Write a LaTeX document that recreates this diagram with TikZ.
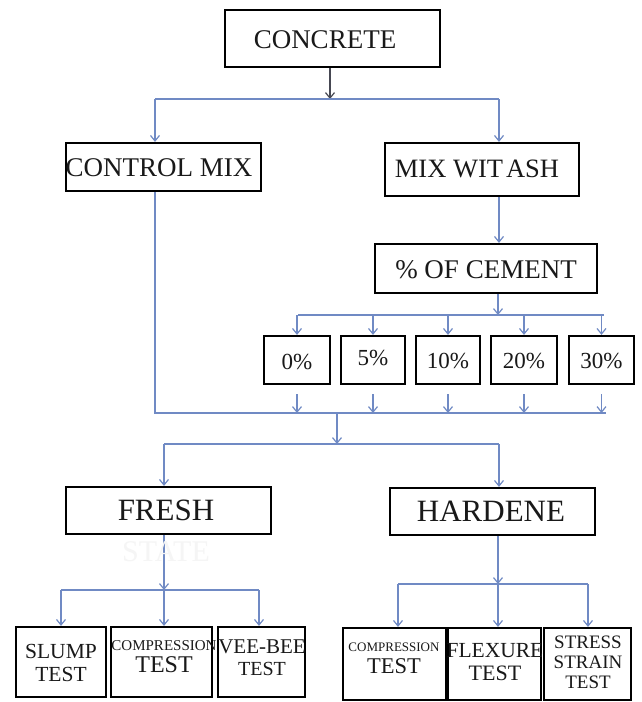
\documentclass[tikz,border=0pt]{standalone}
\usepackage{fontspec}
\setmainfont{Liberation Serif}
\usetikzlibrary{arrows.meta}
\definecolor{lnblue}{RGB}{112,138,196}
\definecolor{lndark}{RGB}{70,72,82}
\begin{document}
\begin{tikzpicture}[x=1pt,y=-1pt,
  box/.style={draw=black,line width=2.2pt,inner sep=0pt},
  txt/.style={inner sep=0pt,align=center,text=black!90},
  conn/.style={draw=lnblue,line width=1.2pt},
  arr/.style={conn,-{Straight Barb[length=5.5pt,width=9pt]}},
  darr/.style={draw=lndark,line width=1.2pt,-{Straight Barb[length=5.5pt,width=9pt]}},
  fA/.style={font=\fontsize{27}{30}\selectfont},
  fB/.style={font=\fontsize{23}{26}\selectfont},
  fC/.style={font=\fontsize{31}{34}\selectfont}]
\fill[white] (0,0) rectangle (641,702);
\useasboundingbox (0,0) rectangle (641,702);

% boxes
\node[box,minimum width=215pt,minimum height=57pt] (concrete) at (332.5,38.5) {};
\node[box,minimum width=195pt,minimum height=48pt] (control) at (163.5,167) {};
\node[box,minimum width=194pt,minimum height=53pt] (mixash) at (482,169.5) {};
\node[box,minimum width=222pt,minimum height=49pt] (cement) at (486,268.5) {};
\node[box,minimum width=66pt,minimum height=48pt] (p0) at (297,360) {};
\node[box,minimum width=64pt,minimum height=48pt] (p5) at (373,360) {};
\node[box,minimum width=64pt,minimum height=48pt] (p10) at (448,360) {};
\node[box,minimum width=66pt,minimum height=48pt] (p20) at (524,360) {};
\node[box,minimum width=65pt,minimum height=48pt] (p30) at (601.5,360) {};
\node[box,minimum width=205pt,minimum height=47pt] (fresh) at (168.5,510.5) {};
\node[box,minimum width=205pt,minimum height=47pt] (hard) at (492.5,511.5) {};
\node[box,minimum width=90pt,minimum height=70pt] (slump) at (61,662) {};
\node[box,minimum width=101pt,minimum height=70pt] (comp1) at (161.5,662) {};
\node[box,minimum width=87pt,minimum height=70pt] (vee) at (261.5,662) {};
\node[box,minimum width=103pt,minimum height=72pt] (comp2) at (394.5,664) {};
\node[box,minimum width=93pt,minimum height=72pt] (flex) at (494.5,664) {};
\node[box,minimum width=87pt,minimum height=72pt] (stress) at (587.5,664) {};

% texts
\node[txt,fA] (concretet) at (325,40) {CONCRETE};
\node[txt,fA] (controlt) at (159,168) {CONTROL MIX};
\node[txt,font=\fontsize{26.5}{30}\selectfont] (mixasht) at (477,169) {MIX WIT\hspace{3pt}ASH};
\node[txt,fA] (cementt) at (486,270) {\% OF CEMENT};
\node[txt,fB] (p0t) at (297,362) {0\%};
\node[txt,fB] (p5t) at (373,358) {5\%};
\node[txt,fB] (p10t) at (448,361) {10\%};
\node[txt,fB] (p20t) at (524,361) {20\%};
\node[txt,fB] (p30t) at (601.5,361) {30\%};
\node[txt,fC] (fresht) at (166,510) {FRESH};
\node[txt,fC] (hardt) at (491,511) {HARDENE};
\node[txt,font=\fontsize{21.5}{23}\selectfont] (slumpt) at (61,663) {SLUMP\\TEST};
\node[txt,font=\fontsize{24}{22}\selectfont] (comp1t) at (164,657) {{\fontsize{15}{22}\selectfont COMPRESSION}\\TEST};
\node[txt,font=\fontsize{20}{22}\selectfont] (veet) at (262,658) {{\fontsize{21}{22}\selectfont VEE-BEE}\\TEST};
\node[txt,font=\fontsize{22.5}{22}\selectfont] (comp2t) at (394,658) {{\fontsize{13}{22}\selectfont COMPRESSION}\\TEST};
\node[txt,font=\fontsize{22}{23}\selectfont] (flext) at (495,662) {{\fontsize{21.5}{23}\selectfont FLEXURE}\\TEST};
\node[txt,font=\fontsize{19}{20}\selectfont] (stresst) at (588,662) {STRESS\\STRAIN\\TEST};

% connectors
\coordinate (j1) at (330,99);
\coordinate (j1l) at (155,99);
\coordinate (j1r) at (499,99);
\draw[darr] (j1 |- concrete.south) -- (j1);
\draw[conn] (j1l) -- (j1r);
\draw[arr] (j1l) -- (j1l |- control.north);
\draw[arr] (j1r) -- (j1r |- mixash.north);

\coordinate (j2l) at (155,413);
\coordinate (j2r) at (606,413);
\coordinate (j2m) at (337,413);
\draw[conn] (j1l |- control.south) -- (j2l) -- (j2r);
\draw[arr] (j1r |- mixash.south) -- (j1r |- cement.north);

\coordinate (j3) at (498,315);
\coordinate (j3l) at (298,315);
\coordinate (j3r) at (604,315);
\draw[arr] (j3 |- cement.south) -- (j3);
\draw[conn] (j3l) -- (j3r);
\foreach \p in {p0,p5,p10,p20,p30}{
  \draw[arr] (\p.north |- j3) -- (\p.north);
  \draw[arr] ([yshift=-9pt]\p.south) -- (\p.south |- j2l);
}

\coordinate (j4) at (337,444);
\coordinate (j4l) at (164,444);
\coordinate (j4r) at (499,444);
\draw[arr] (j2m) -- (j4);
\draw[conn] (j4l) -- (j4r);
\draw[arr] (j4l) -- (j4l |- fresh.north);
\draw[arr] (j4r) -- (j4r |- hard.north);

\coordinate (j5) at (164,590);
\coordinate (j5l) at (61,590);
\coordinate (j5r) at (259,590);
\draw[arr] (j5 |- fresh.south) -- (j5);
\draw[conn] (j5l) -- (j5r);
\draw[arr] (j5l) -- (j5l |- slump.north);
\draw[arr] (j5) -- (j5 |- comp1.north);
\draw[arr] (j5r) -- (j5r |- vee.north);

\coordinate (j6) at (498,584);
\coordinate (j6l) at (398,584);
\coordinate (j6r) at (588,584);
\draw[arr] (j6 |- hard.south) -- (j6);
\draw[conn] (j6l) -- (j6r);
\draw[arr] (j6l) -- (j6l |- comp2.north);
\draw[arr] (j6) -- (j6 |- flex.north);
\draw[arr] (j6r) -- (j6r |- stress.north);

% faint text under FRESH
\node[inner sep=0pt,text=black!4,font=\fontsize{30}{30}\selectfont] (state) at (166,552) {STATE};
\end{tikzpicture}
\end{document}
